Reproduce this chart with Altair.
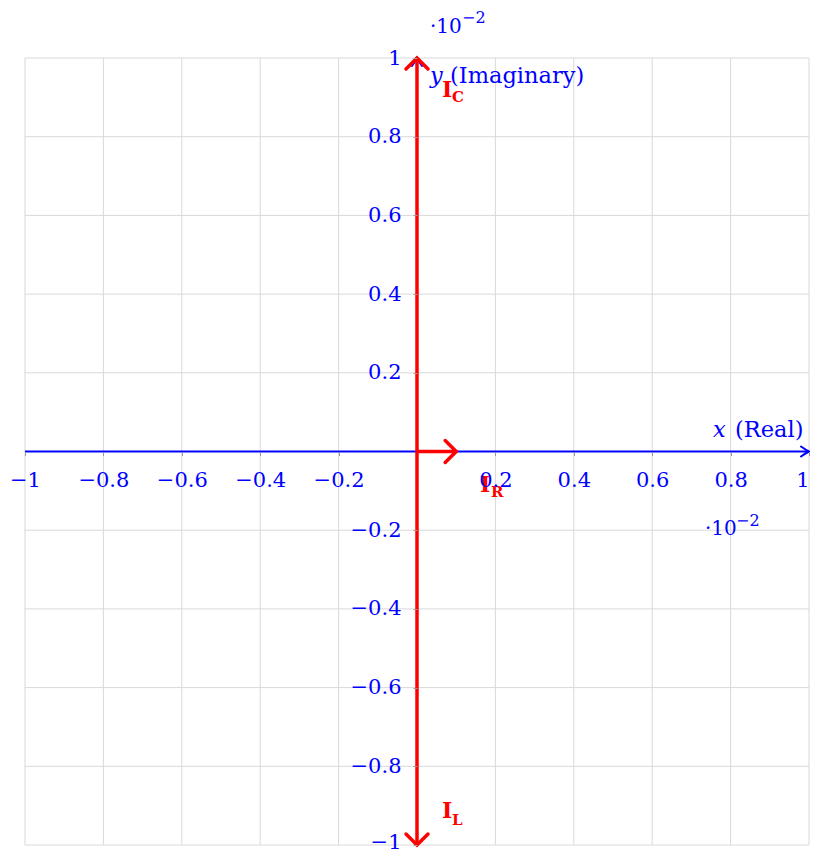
import math
import altair as alt
import pandas as pd

# ---------------- data ----------------
domain = [-1.0, 1.0]
grid_values = [-1.0, -0.8, -0.6, -0.4, -0.2, 0.0, 0.2, 0.4, 0.6, 0.8, 1.0]
tick_values = [-1.0, -0.8, -0.6, -0.4, -0.2, 0.2, 0.4, 0.6, 0.8, 1.0]

phasor_names = ["I_R", "I_C", "I_L"]
phasor_x = [0.1, 0.0, 0.0]
phasor_y = [0.0, 1.0, -1.0]
phasor_main = ["I", "I", "I"]
phasor_sub = ["R", "C", "L"]

# ---------------- style ----------------
W = 784
H = 787
FONT = "DejaVu Serif"
BLUE = "#0000ff"
RED = "#ff0000"
GRID = "#d9d9d9"

xscale = alt.Scale(domain=domain, nice=False, zero=False)
yscale = alt.Scale(domain=domain, nice=False, zero=False)

x_axis = alt.Axis(values=tick_values, orient="bottom", offset=-H / 2, grid=False,
                  domain=False, ticks=True, tickColor="#999999", tickSize=4,
                  labelFont=FONT, labelFontSize=21, labelColor=BLUE, labelPadding=14,
                  labelFlush=False, labelOverlap=False, title=None, zindex=1,
                  labelAlign={"condition": {"test": "datum.value >= 1", "value": "right"},
                              "value": "center"},
                  format=".1~f")
y_axis = alt.Axis(values=tick_values, orient="left", offset=-W / 2, grid=False,
                  domain=False, ticks=True, tickColor="#999999", tickSize=4,
                  labelFont=FONT, labelFontSize=21, labelColor=BLUE, labelPadding=12,
                  labelFlush=False, labelOverlap=False, title=None, zindex=1,
                  labelOffset={"condition": {"test": "datum.value <= -1", "value": -3},
                               "value": 0},
                  format=".1~f")


def X(f):
    return alt.X(f, scale=xscale, axis=x_axis)


def Y(f):
    return alt.Y(f, scale=yscale, axis=y_axis)


# grid
grid_df = pd.DataFrame({"v": grid_values})
vgrid = alt.Chart(grid_df).mark_rule(color=GRID, strokeWidth=1).encode(x=X("v:Q"))
hgrid = alt.Chart(grid_df).mark_rule(color=GRID, strokeWidth=1).encode(y=Y("v:Q"))

# blue axis lines
axes_df = pd.DataFrame({
    "x": [domain[0], 0.0], "x2": [domain[1], 0.0],
    "y": [0.0, domain[0]], "y2": [0.0, domain[1]],
})
axis_lines = alt.Chart(axes_df).mark_rule(color=BLUE, strokeWidth=2).encode(
    x=X("x:Q"), x2="x2:Q", y=Y("y:Q"), y2="y2:Q")

blue_head_df = pd.DataFrame({"x": [domain[1], 0.0], "y": [0.0, domain[1]], "ang": [0, 270]})
blue_heads = alt.Chart(blue_head_df).mark_point(
    shape="M -1.6 -1 Q -0.6 -0.3 0 0 Q -0.6 0.3 -1.6 1", filled=False, stroke=BLUE,
    strokeWidth=2, size=100, opacity=1, strokeCap="round").encode(
    x=X("x:Q"), y=Y("y:Q"), angle=alt.Angle("ang:Q", scale=None))

# red phasors
ph_df = pd.DataFrame({
    "name": phasor_names, "x0": [0.0] * 3, "y0": [0.0] * 3,
    "x": phasor_x, "y": phasor_y,
})
ph_df["ang"] = [(math.degrees(math.atan2(-yy, xx)) + 360) % 360 for xx, yy in zip(phasor_x, phasor_y)]

shafts = alt.Chart(ph_df).mark_rule(color=RED, strokeWidth=3.5).encode(
    x=X("x0:Q"), x2="x:Q", y=Y("y0:Q"), y2="y:Q")
heads = alt.Chart(ph_df).mark_point(
    shape="M -1 -1 Q -0.35 -0.35 0 0 Q -0.35 0.35 -1 1", filled=False, stroke=RED,
    strokeWidth=3.5, size=484, opacity=1, strokeCap="round").encode(
    x=X("x:Q"), y=Y("y:Q"), angle=alt.Angle("ang:Q", scale=None))

one = pd.DataFrame({"k": [0]})


def txt(s, px, py, size, color=BLUE, weight="normal", style="normal"):
    return alt.Chart(one).mark_text(
        text=s, font=FONT, fontSize=size, color=color, fontWeight=weight,
        fontStyle=style, align="left", baseline="alphabetic").encode(
        x=alt.value(px), y=alt.value(py))


label_pos = {"I_R": (455, 433.5, 466, 438.5),
             "I_C": (417, 38.5, 427, 43.5),
             "I_L": (417, 759.5, 427, 766.5)}
texts = []
for nm, mn, sb in zip(phasor_names, phasor_main, phasor_sub):
    a, b, c, d = label_pos[nm]
    texts.append(txt(mn, a, b, 22, RED, "bold"))
    texts.append(txt(sb, c, d, 15, RED, "bold"))

texts += [
    txt("·10", 405, -25.5, 20),
    txt("−2", 437, -35.5, 16),
    txt("·10", 680, 476.5, 20),
    txt("−2", 711, 467.5, 16),
    txt("x", 688, 378.5, 22.5, style="italic"),
    txt("(Real)", 710, 378.5, 22.5),
    txt("y", 405, 24.5, 22.5, style="italic"),
    txt("(Imaginary)", 425, 24.5, 22.5),
]

chart = alt.layer(vgrid, hgrid, axis_lines, blue_heads, shafts, heads, *texts).properties(
    width=W, height=H,
    autosize=alt.AutoSizeParams(type="none"),
    padding={"left": 17, "top": 50, "right": 1, "bottom": 6},
).configure_view(stroke=None)

chart.save("out.html", embed_options={"renderer": "svg", "actions": False})
